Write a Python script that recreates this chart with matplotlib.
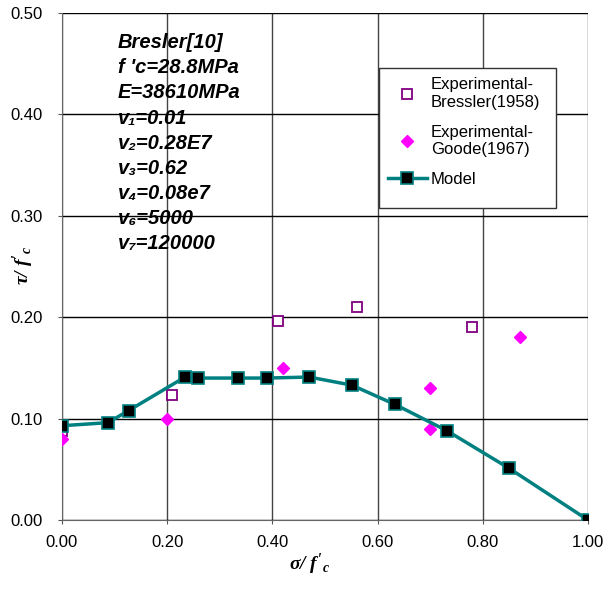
import matplotlib.pyplot as plt
from matplotlib.patches import Rectangle

plt.rcParams['font.family'] = ['Liberation Sans', 'DejaVu Sans']
plt.rcParams['mathtext.fontset'] = 'custom'
plt.rcParams['mathtext.rm'] = 'Liberation Serif:bold:italic'
plt.rcParams['mathtext.it'] = 'Liberation Serif:bold:italic'
plt.rcParams['mathtext.default'] = 'it'

# Bressler (1958) test data
bressler_x = [0.0, 0.21, 0.41, 0.56, 0.78]
bressler_y = [0.088, 0.123, 0.196, 0.21, 0.19]

# Goode (1967) test data
goode_x = [0.0, 0.2, 0.42, 0.7, 0.7, 0.87]
goode_y = [0.08, 0.10, 0.15, 0.13, 0.09, 0.18]

# model prediction
model_x = [0.0, 0.087, 0.127, 0.234, 0.259, 0.335, 0.39, 0.47, 0.551, 0.633, 0.732, 0.85, 1.0]
model_y = [0.093, 0.096, 0.108, 0.141, 0.140, 0.140, 0.140, 0.141, 0.133, 0.114, 0.088, 0.051, 0.0]

params = ['Bresler[10]', "f 'c=28.8MPa", 'E=38610MPa', 'v\u2081=0.01', 'v\u2082=0.28E7',
          'v\u2083=0.62', 'v\u2084=0.08e7', 'v\u2086=5000', 'v\u2087=120000']

fig = plt.figure(figsize=(6.04, 5.9), dpi=100)
ax = fig.add_axes([0.1026, 0.1186, 0.8709, 0.8594])

ax.plot(bressler_x, bressler_y, 's', mfc='white', mec='#800080', mew=1.3, ms=7,
        label='Experimental-\nBressler(1958)', zorder=3)
ax.plot(goode_x, goode_y, 'D', color='#FF00FF', ms=6, label='Experimental-\nGoode(1967)', zorder=3)
ax.plot(model_x, model_y, '-s', color='#008080', lw=2.5, mfc='black', mec='#008080',
        mew=1.2, ms=8, label='Model', zorder=4)

ax.set_xlim(0, 1.0)
ax.set_ylim(0, 0.5)
ax.set_xticks([0, 0.2, 0.4, 0.6, 0.8, 1.0])
ax.set_yticks([0, 0.1, 0.2, 0.3, 0.4, 0.5])
ax.xaxis.set_major_formatter(plt.FormatStrFormatter('%.2f'))
ax.yaxis.set_major_formatter(plt.FormatStrFormatter('%.2f'))
ax.tick_params(labelsize=12, length=3, color='#555555')
ax.tick_params(axis='y', pad=11)
ax.tick_params(axis='x', pad=8)
ax.grid(axis='x', color='#444444', lw=1)
ax.grid(axis='y', color='black', lw=1)
for s in ['top', 'right']:
    ax.spines[s].set_visible(False)
for s in ['left', 'bottom']:
    ax.spines[s].set_color('#666666')

fig.text(0.513, 0.022, r"$\sigma /\ f'_c$", fontsize=14, ha='center', va='bottom')
fig.text(0.038, 0.55, r"$\tau /\ f'_c$", fontsize=14, ha='center', va='center', rotation=90)

for i, line in enumerate(params):
    ax.text(0.1065, 0.941 - i * 0.0494, line, transform=ax.transAxes, fontsize=14.5,
            fontweight='bold', style='italic', va='center', ha='left')

# legend box, taller than its entries
ax.add_patch(Rectangle((0.603, 0.615), 0.336, 0.2765, transform=ax.transAxes,
                       facecolor='white', edgecolor='#333333', lw=1, zorder=5))
leg = ax.legend(loc='upper left', bbox_to_anchor=(0.603, 0.8915), fontsize=12,
                frameon=False, handlelength=2.3, handletextpad=0.25, borderpad=0.55,
                borderaxespad=0.0, labelspacing=0.9)
leg.set_zorder(6)

fig.savefig('out.png', dpi=100)
